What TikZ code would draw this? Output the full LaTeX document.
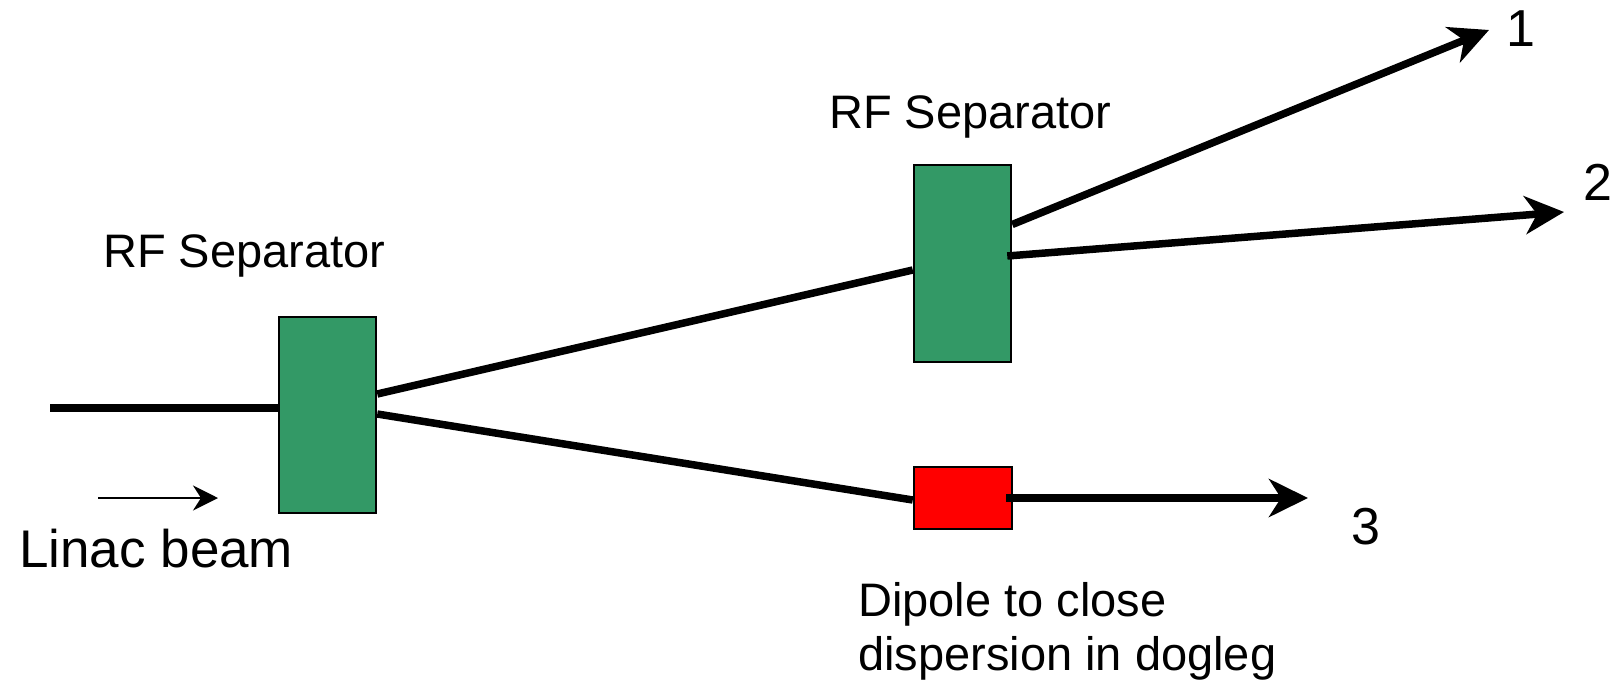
\documentclass[tikz,border=0pt]{standalone}
\usepackage{fontspec}
\setmainfont{Liberation Sans}
\usetikzlibrary{arrows.meta,calc}
\definecolor{sepgreen}{RGB}{51,153,102}
\tikzset{
  sepbox/.style={draw=black, line width=2.5bp, fill=sepgreen, inner sep=0pt, minimum width=97bp, minimum height=196bp},
  dipbox/.style={draw=black, line width=2.5bp, fill=red, inner sep=0pt, minimum width=98bp, minimum height=62bp},
  beam/.style={line width=7.5bp},
  beamarrow/.style={line width=7.5bp, -{Stealth[length=39bp, width=38bp, inset=12bp]}},
  thinarrow/.style={line width=2bp, -{Stealth[length=25bp, width=25bp, inset=8bp]}},
  lab/.style={font=\fontsize{47bp}{56bp}\selectfont, inner sep=0pt},
  biglab/.style={font=\fontsize{53bp}{62bp}\selectfont, inner sep=0pt},
  numlab/.style={font=\fontsize{52bp}{60bp}\selectfont, inner sep=0pt}
}
\begin{document}
\begin{tikzpicture}[x=1bp,y=-1bp]
\useasboundingbox (0,0) rectangle (1612,683);
% boxes
\node[sepbox] (sep1) at (327.5,415) {};
\node[sepbox, minimum height=197bp] (sep2) at (962.5,263.5) {};
\node[dipbox] (dip) at (963,498) {};
% free ends
\coordinate (in) at (50,408);
\coordinate (out1) at (1489,30);
\coordinate (out2) at (1564,212);
\coordinate (out3) at (1308,498);
\coordinate (tA) at (98,498);
\coordinate (tB) at (218,498);
% beams
\draw[beam] (in) -- ($(sep1.west)+(0,-7)$);
\draw[beam] ($(sep1.east)+(0,-21)$) -- ($(sep2.west)+(0,6.5)$);
\draw[beam] ($(sep1.east)+(0,-1)$) -- ($(dip.west)+(0,2)$);
\draw[beamarrow] ($(sep2.east)+(0,-39)$) -- (out1);
\draw[beamarrow] ($(sep2.east)+(-5,-7.5)$) -- (out2);
\draw[beamarrow] ($(dip.east)+(-7,0)$) -- (out3);
\draw[thinarrow] (tA) -- (tB);
% labels
\node[lab, anchor=base west] (l1) at (103,267) {RF Separator};
\node[lab, anchor=base west] (l2) at (829,129) {RF Separator};
\node[biglab, anchor=base west] (l3) at (19,567) {Linac beam};
\node[lab, anchor=base west] (l4) at (858,616) {Dipole to close};
\node[lab, anchor=base west] (l5) at (858,670) {dispersion in dogleg};
\node[numlab] (n1) at (1521,29) {1};
\node[numlab] (n2) at (1598,182) {2};
\node[numlab] (n3) at (1366,527) {3};
\end{tikzpicture}
\end{document}
